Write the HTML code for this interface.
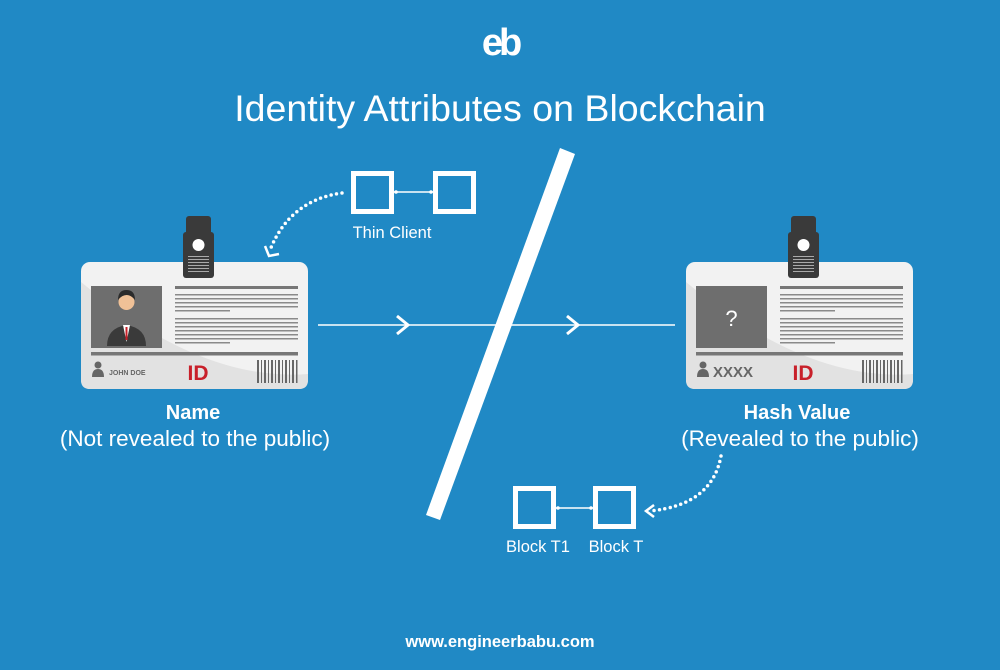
<!DOCTYPE html>
<html><head><meta charset="utf-8"><style>
html,body{margin:0;padding:0;background:#2089c5;}
svg{display:block}
text{font-family:"Liberation Sans",sans-serif;}
</style></head><body>
<svg width="1000" height="670" viewBox="0 0 1000 670" xmlns="http://www.w3.org/2000/svg">
<rect width="1000" height="670" fill="#2089c5"/>
<defs>
<g id="card">
  <rect x="0" y="0" width="227" height="127" rx="9" fill="#f2f2f2"/>
  <path d="M0 20 L0 118 Q0 127 9 127 L218 127 Q227 127 227 118 L227 112 Q120 120 0 20Z" fill="#e2e2e2"/>
  <rect x="10" y="24" width="71" height="62" fill="#6e6e6e"/>
  <rect x="94" y="24" width="123" height="3" fill="#777"/>
  <g fill="#8a8a8a">
   <rect x="94" y="32" width="123" height="1.5"/><rect x="94" y="36" width="123" height="1.5"/><rect x="94" y="40" width="123" height="1.5"/><rect x="94" y="44" width="123" height="1.5"/><rect x="94" y="48" width="55" height="1.5"/>
   <rect x="94" y="56" width="123" height="1.5"/><rect x="94" y="60" width="123" height="1.5"/><rect x="94" y="64" width="123" height="1.5"/><rect x="94" y="68" width="123" height="1.5"/><rect x="94" y="72" width="123" height="1.5"/><rect x="94" y="76" width="123" height="1.5"/><rect x="94" y="80" width="55" height="1.5"/>
  </g>
  <rect x="10" y="90" width="207" height="3.5" fill="#777"/>
  <circle cx="17" cy="103" r="3.5" fill="#666"/><path d="M11 115 Q11 107 17 107 Q23 107 23 115Z" fill="#666"/>
  <g fill="#666">
   <rect x="176" y="98" width="2" height="23"/><rect x="180" y="98" width="1" height="23"/><rect x="183" y="98" width="2" height="23"/><rect x="187" y="98" width="1" height="23"/><rect x="190" y="98" width="2" height="23"/><rect x="194" y="98" width="1" height="23"/><rect x="197" y="98" width="2" height="23"/><rect x="201" y="98" width="1" height="23"/><rect x="204" y="98" width="2" height="23"/><rect x="208" y="98" width="1" height="23"/><rect x="211" y="98" width="2" height="23"/><rect x="215" y="98" width="1.5" height="23"/>
  </g>
  <text x="117" y="118" font-size="21" font-weight="bold" fill="#c8202a" text-anchor="middle">ID</text>
  <rect x="105" y="-46" width="25" height="20" rx="3" fill="#3a3a3a"/>
  <rect x="102" y="-30" width="31" height="46" rx="3" fill="#3a3a3a"/>
  <circle cx="117.5" cy="-17" r="6" fill="#fff"/>
  <g fill="#aaa"><rect x="107" y="-6" width="21" height="1"/><rect x="107" y="-3" width="21" height="1"/><rect x="107" y="0" width="21" height="1"/><rect x="107" y="3" width="21" height="1"/><rect x="107" y="6" width="21" height="1"/><rect x="107" y="9" width="21" height="1"/></g>
</g>
</defs>

<!-- logo -->
<text x="500" y="55" font-size="38" font-weight="bold" fill="#fff" text-anchor="middle" letter-spacing="-4">eb</text>

<text x="500" y="121" font-size="37.5" fill="#fff" text-anchor="middle">Identity Attributes on Blockchain</text>

<!-- arrow line -->
<line x1="318" y1="325" x2="675" y2="325" stroke="#fff" stroke-width="1.5"/>
<polyline points="397,316 408,325 397,334" fill="none" stroke="#fff" stroke-width="3"/>
<polyline points="567,316 578,325 567,334" fill="none" stroke="#fff" stroke-width="3"/>

<!-- slash -->
<polygon points="560,148 575,154 440,520 426,515" fill="#fff"/>

<!-- cards -->
<g transform="translate(81,262)"><use href="#card"/>
  <circle cx="45.5" cy="40" r="8" fill="#f0c197"/><path d="M37 38 Q37 28 45.5 28 Q54 28 54 38 Q50 33 45.5 33 Q41 33 37 38Z" fill="#2b2b2b"/>
  <path d="M26 84 Q26 66 45.5 63 Q65 66 65 84Z" fill="#3a3a3a"/><path d="M42 63 L49 63 L45.5 80Z" fill="#fff"/><rect x="44.5" y="65" width="2" height="13" fill="#c8202a"/>
  <text x="28" y="113" font-size="7" font-weight="bold" fill="#666">JOHN DOE</text>
</g>
<g transform="translate(686,262)"><use href="#card"/>
  <text x="45.5" y="64" font-size="22" fill="#fff" text-anchor="middle">?</text>
  <text x="27" y="115" font-size="15" font-weight="bold" fill="#666">XXXX</text>
</g>

<!-- labels -->
<text x="193" y="419" font-size="20" font-weight="bold" fill="#fff" text-anchor="middle">Name</text>
<text x="195" y="446" font-size="22.5" fill="#fff" text-anchor="middle">(Not revealed to the public)</text>
<text x="797" y="419" font-size="20" font-weight="bold" fill="#fff" text-anchor="middle">Hash Value</text>
<text x="800" y="446" font-size="22.5" fill="#fff" text-anchor="middle">(Revealed to the public)</text>

<!-- thin client -->
<rect x="353.5" y="173.5" width="38" height="38" fill="none" stroke="#fff" stroke-width="5"/>
<rect x="435.5" y="173.5" width="38" height="38" fill="none" stroke="#fff" stroke-width="5"/>
<line x1="394" y1="192" x2="433" y2="192" stroke="#fff" stroke-width="1.5"/>
<circle cx="396" cy="192" r="1.8" fill="#fff"/><circle cx="431" cy="192" r="1.8" fill="#fff"/>
<text x="392" y="238" font-size="16.5" fill="#fff" text-anchor="middle">Thin Client</text>
<path d="M342 193 Q290 200 270 250" fill="none" stroke="#fff" stroke-width="3.5" stroke-dasharray="0 5.5" stroke-linecap="round"/>
<polyline points="265,246 269,256 279,254" fill="none" stroke="#fff" stroke-width="2.5"/>

<!-- blocks -->
<rect x="515.5" y="488.5" width="38" height="38" fill="none" stroke="#fff" stroke-width="5"/>
<rect x="595.5" y="488.5" width="38" height="38" fill="none" stroke="#fff" stroke-width="5"/>
<line x1="556" y1="508" x2="593" y2="508" stroke="#fff" stroke-width="1.5"/>
<circle cx="558" cy="508" r="1.8" fill="#fff"/><circle cx="591" cy="508" r="1.8" fill="#fff"/>
<text x="538" y="552" font-size="16.5" fill="#fff" text-anchor="middle">Block T1</text>
<text x="616" y="552" font-size="16.5" fill="#fff" text-anchor="middle">Block T</text>
<path d="M721 456 Q712 505 650 511" fill="none" stroke="#fff" stroke-width="3.5" stroke-dasharray="0 5.5" stroke-linecap="round"/>
<polyline points="654,505 646,511 654,517" fill="none" stroke="#fff" stroke-width="2.5"/>

<text x="500" y="647" font-size="16.5" font-weight="bold" fill="#fff" text-anchor="middle">www.engineerbabu.com</text>
</svg>
</body></html>
